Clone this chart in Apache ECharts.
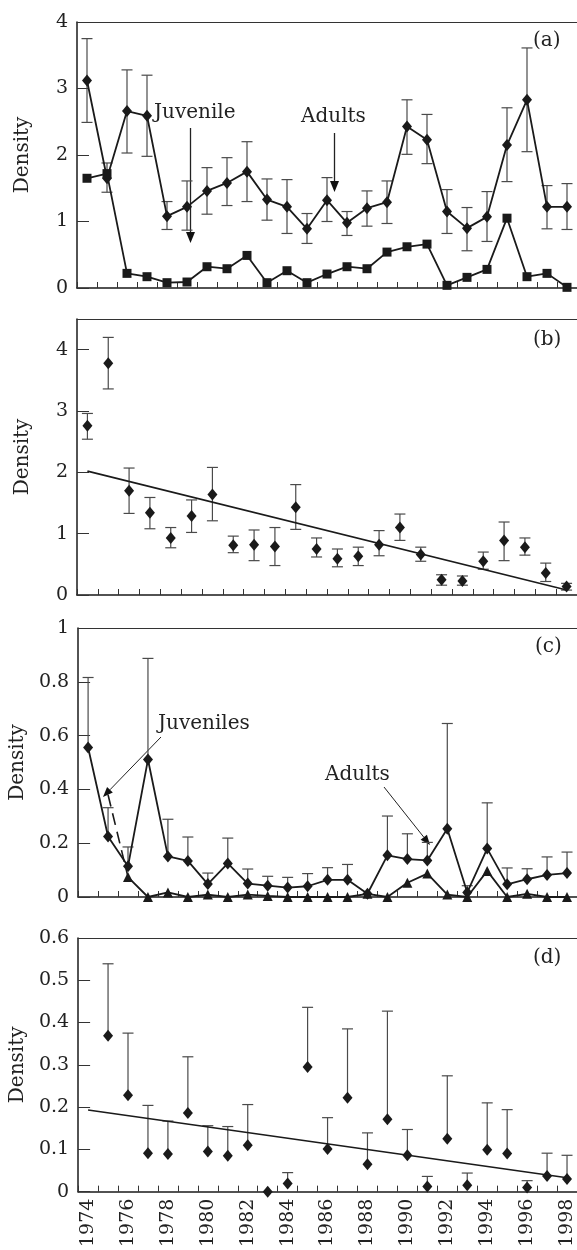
<!DOCTYPE html>
<html>
<head>
<meta charset="utf-8">
<title>Density 1974-1998</title>
<script src="https://cdn.jsdelivr.net/npm/echarts@6/dist/echarts.min.js"></script>
<style>
  html, body { margin: 0; padding: 0; background: #fff; }
  #chart { width: 577px; height: 1250px; }
</style>
</head>
<body>
<div id="chart"></div>
<script>
// years on the x axis (panels a, c, d)
const years = ["1974","1975","1976","1977","1978","1979","1980","1981","1982","1983","1984","1985",
  "1986","1987","1988","1989","1990","1991","1992","1993","1994","1995","1996","1997","1998"];
// panel (b) is drawn on 24 slots in the source figure
const yearsB = years.slice(0, 24);

// (a) adults (diamonds, +/- bars) and juveniles (squares)
const adultsA   = [3.12,1.65,2.66,2.59,1.08,1.22,1.46,1.58,1.75,1.33,1.22,0.89,1.32,0.98,1.20,1.29,2.43,2.23,1.15,0.90,1.07,2.15,2.83,1.22,1.22];
const adultsAHi = [3.75,1.88,3.28,3.20,1.30,1.61,1.81,1.96,2.20,1.64,1.63,1.12,1.66,1.15,1.46,1.61,2.83,2.61,1.48,1.21,1.45,2.71,3.61,1.54,1.57];
const adultsALo = [2.49,1.44,2.03,1.98,0.88,0.87,1.11,1.24,1.30,1.02,0.82,0.67,1.00,0.79,0.93,0.97,2.01,1.87,0.82,0.56,0.70,1.60,2.05,0.89,0.88];
const juvA      = [1.65,1.72,0.22,0.17,0.08,0.09,0.32,0.29,0.49,0.08,0.26,0.08,0.21,0.32,0.29,0.54,0.62,0.66,0.04,0.16,0.28,1.05,0.17,0.22,0.01];

// (b) density with +/- bars and a trend line (start, end)
const densB = [2.76,3.78,1.70,1.34,0.93,1.29,1.64,0.81,0.82,0.79,1.43,0.75,0.59,0.63,0.82,1.10,0.66,0.25,0.23,0.55,0.89,0.78,0.36,0.14];
const hiB   = [2.96,4.20,2.07,1.59,1.10,1.55,2.08,0.96,1.06,1.10,1.80,0.93,0.75,0.78,1.05,1.32,0.78,0.33,0.31,0.70,1.19,0.93,0.52,0.19];
const loB   = [2.54,3.36,1.33,1.08,0.77,1.02,1.21,0.69,0.56,0.48,1.07,0.62,0.46,0.48,0.64,0.89,0.55,0.16,0.16,0.42,0.56,0.65,0.22,0.08];
const trendB = [2.02, 0.08];

// (c) adults (diamonds, upper bars), juveniles (triangles), dashed juvenile start
const adultsC = [0.556,0.225,0.114,0.511,0.151,0.134,0.048,0.125,0.050,0.042,0.035,0.040,0.064,0.064,0.012,0.155,0.141,0.136,0.254,0.017,0.180,0.047,0.066,0.082,0.089];
const hiC     = [0.816,0.332,0.186,0.887,0.289,0.223,0.089,0.219,0.104,0.077,0.073,0.087,0.109,0.121,null,0.301,0.235,0.203,0.645,0.042,0.350,0.108,0.105,0.149,0.167];
const juvC    = [null,null,0.074,0,0.017,0,0.009,0,0.009,0.004,0,0,0,0,0.012,0,0.053,0.087,0.009,0,0.097,0,0.012,0,0];
const juvCDash = [null,0.38,0.074];

// (d) density with upper bars and trend line (start, end)
const densD = [null,0.369,0.228,0.091,0.089,0.186,0.095,0.085,0.110,0.0,0.019,0.295,0.101,0.222,0.065,0.171,0.086,0.012,0.125,0.015,0.099,0.090,0.010,0.037,0.030];
const hiD   = [null,0.539,0.375,0.204,0.167,0.319,0.156,0.154,0.206,null,0.045,0.436,0.175,0.385,0.139,0.427,0.147,0.036,0.274,0.044,0.210,0.194,0.026,0.091,0.086];
const trendD = [0.193, 0.033];

const FONT = "DejaVu Serif";
const INK = "#1a1a1a";
const BAR = "#4a4a4a";

const chart = echarts.init(document.getElementById("chart"));

const grids = [
  { left: 77, width: 500, top: 22, height: 266 },
  { left: 77, width: 500, top: 319, height: 276 },
  { left: 77, width: 500, top: 628, height: 269 },
  { left: 77, width: 500, top: 938, height: 257 }
];

function xBottom(i, data) {
  return {
    type: "category", gridIndex: i, data: data, boundaryGap: true, position: "bottom",
    axisLine: { show: true, lineStyle: { color: INK, width: 1.5 } },
    axisTick: { show: true, inside: true, length: 6, interval: 0, alignWithLabel: false, lineStyle: { color: "#333", width: 1 } },
    axisLabel: { show: i === 3, interval: 1, rotate: 90, margin: 7, fontFamily: FONT, fontSize: 19, color: "#222" },
    splitLine: { show: false }
  };
}

function xTop(i, data) {
  return {
    type: "category", gridIndex: i, data: data, position: "top",
    axisLine: { show: true, lineStyle: { color: "#333", width: 1 } },
    axisTick: { show: false }, axisLabel: { show: false }, splitLine: { show: false }
  };
}

function yAxis(i, max, interval, showMax) {
  return {
    type: "value", gridIndex: i, min: 0, max: max, interval: interval,
    name: "Density", nameLocation: "middle", nameGap: 44,
    nameTextStyle: { fontFamily: FONT, fontSize: 20, color: "#222" },
    axisLine: { show: true, lineStyle: { color: INK, width: 1.5 } },
    axisTick: { show: true, inside: true, length: 12, lineStyle: { color: "#333", width: 1 } },
    axisLabel: { fontFamily: FONT, fontSize: 19, color: "#222", margin: 9, showMaxLabel: showMax },
    splitLine: { show: false }
  };
}

// error bars as a custom series; twoSided draws the lower cap too
function errSeries(i, lo, hi, twoSided) {
  const data = [];
  hi.forEach((h, k) => { if (h != null && lo[k] != null) data.push([k, lo[k], h]); });
  return {
    type: "custom", xAxisIndex: 2 * i, yAxisIndex: i, z: 1, silent: true,
    encode: { x: 0, y: [1, 2] },
    data: data,
    renderItem: (params, api) => {
      const x = api.value(0);
      const a = api.coord([x, api.value(1)]);
      const b = api.coord([x, api.value(2)]);
      const hw = 5.5;
      const st = { stroke: BAR, lineWidth: 1.2 };
      const kids = [
        { type: "line", shape: { x1: a[0], y1: a[1], x2: b[0], y2: b[1] }, style: st },
        { type: "line", shape: { x1: b[0] - hw, y1: b[1], x2: b[0] + hw, y2: b[1] }, style: st }
      ];
      if (twoSided) kids.push({ type: "line", shape: { x1: a[0] - hw, y1: a[1], x2: a[0] + hw, y2: a[1] }, style: st });
      return { type: "group", children: kids };
    }
  };
}

function lineSeries(i, data, symbol, size, extra) {
  return Object.assign({
    type: "line", xAxisIndex: 2 * i, yAxisIndex: i, z: 3, data: data,
    symbol: symbol, symbolSize: size, showAllSymbol: true,
    itemStyle: { color: INK, opacity: 1 }, lineStyle: { color: INK, width: 1.8 },
    connectNulls: false
  }, extra || {});
}

function scatterSeries(i, data) {
  return {
    type: "scatter", xAxisIndex: 2 * i, yAxisIndex: i, z: 3, data: data,
    symbol: "diamond", symbolSize: [10, 12], itemStyle: { color: INK, opacity: 1 }
  };
}

function trendSeries(i, n, ends) {
  const d = [];
  for (let k = 0; k < n; k++) d.push(k === 0 ? ends[0] : (k === n - 1 ? ends[1] : null));
  return {
    type: "line", xAxisIndex: 2 * i, yAxisIndex: i, z: 2, data: d, connectNulls: true,
    showSymbol: false, symbol: "none", lineStyle: { color: INK, width: 1.6 }
  };
}

// annotation helpers (pixel positions)
function txt(x, y, s) {
  return { type: "text", left: x, top: y, style: { text: s, fontFamily: FONT, fontSize: 20, fill: "#222" } };
}
function arrow(x1, y1, x2, y2, len, wid, lw) {
  const dx = x2 - x1, dy = y2 - y1, L = Math.sqrt(dx * dx + dy * dy);
  const ux = dx / L, uy = dy / L;
  const bx = x2 - ux * len, by = y2 - uy * len;
  return [
    { type: "line", shape: { x1: x1, y1: y1, x2: bx, y2: by }, style: { stroke: "#222", lineWidth: lw } },
    { type: "polygon", shape: { points: [[x2, y2], [bx - uy * wid / 2, by + ux * wid / 2], [bx + uy * wid / 2, by - ux * wid / 2]] }, style: { fill: "#111" } }
  ];
}

const graphics = [
  txt(533, 31, "(a)"), txt(533, 330, "(b)"), txt(535, 637, "(c)"), txt(533, 948, "(d)"),
  txt(154, 103, "Juvenile"), txt(301, 107, "Adults"),
  txt(158, 714, "Juveniles"), txt(325, 765, "Adults")
].concat(
  arrow(190.5, 128, 190.5, 243, 11, 9, 1.3),
  arrow(334.5, 133, 334.5, 192, 11, 9, 1.3),
  arrow(161, 737, 103, 797, 10, 8, 1),
  arrow(384, 787, 430, 845, 10, 8, 1)
);

chart.setOption({
  animation: false,
  backgroundColor: "#fff",
  grid: grids,
  xAxis: [
    xBottom(0, years), xTop(0, years),
    xBottom(1, yearsB), xTop(1, yearsB),
    xBottom(2, years), xTop(2, years),
    xBottom(3, years), xTop(3, years)
  ],
  yAxis: [
    yAxis(0, 4, 1, true),
    yAxis(1, 4.5, 1, false),
    yAxis(2, 1, 0.2, true),
    yAxis(3, 0.6, 0.1, true)
  ],
  series: [
    errSeries(0, adultsALo, adultsAHi, true),
    lineSeries(0, adultsA, "diamond", [10, 12]),
    lineSeries(0, juvA, "rect", 9),

    errSeries(1, loB, hiB, true),
    trendSeries(1, yearsB.length, trendB),
    scatterSeries(1, densB),

    errSeries(2, adultsC, hiC, false),
    lineSeries(2, juvCDash, "none", 0, { lineStyle: { color: INK, width: 1.6, type: [12, 7] }, z: 2 }),
    lineSeries(2, juvC, "triangle", 10),
    lineSeries(2, adultsC, "diamond", [10, 12]),

    errSeries(3, densD, hiD, false),
    trendSeries(3, years.length, trendD),
    scatterSeries(3, densD)
  ],
  graphic: graphics
});
</script>
</body>
</html>
